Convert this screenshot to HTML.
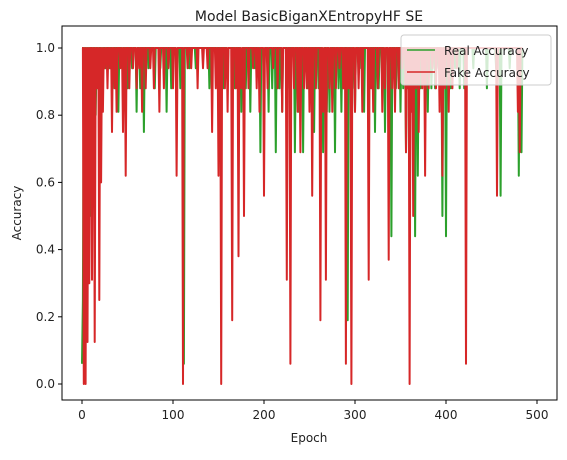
<!DOCTYPE html>
<html><head><meta charset="utf-8"><style>
body{margin:0;background:#fff;font-family:"Liberation Sans","DejaVu Sans",sans-serif}
svg text{font-family:"DejaVu Sans","Liberation Sans",sans-serif;fill:#222}
</style></head><body>
<svg id="chart" width="567" height="455" viewBox="0 0 567 455" xmlns="http://www.w3.org/2000/svg">
<rect width="567" height="455" fill="#fff"/>
<text x="309" y="21" font-size="14" text-anchor="middle">Model BasicBiganXEntropyHF SE</text>
<g id="plot"></g>
<rect x="62" y="26" width="495" height="374" fill="none" stroke="#000" stroke-width="1"/>
<g id="ticks"></g>
<text x="309" y="442" font-size="12" text-anchor="middle">Epoch</text>
<text transform="translate(21,213) rotate(-90)" font-size="12" text-anchor="middle">Accuracy</text>
<g>
<rect x="401" y="35" width="150" height="50" rx="3" fill="#fff" fill-opacity="0.8" stroke="#ccc"/>
<line x1="407" y1="50" x2="435" y2="50" stroke="#2ca02c" stroke-width="1.5"/>
<text x="444" y="55" font-size="12">Real Accuracy</text>
<line x1="407" y1="72" x2="435" y2="72" stroke="#d62728" stroke-width="1.5"/>
<text x="444" y="77" font-size="12">Fake Accuracy</text>
</g>
</svg>
<script>
const nEpochs = 485;
const xTicks = [0,100,200,300,400,500];
const yTicks = [0.0,0.2,0.4,0.6,0.8,1.0];
const realDipEpochs = [0,1,3,5,7,9,12,15,18,22,26,30,34,40,44,47,50,55,60,64,68,73,80,86,93,98,104,108,112,118,125,140,148,155,160,168,175,180,185,190,196,200,205,209,213,217,220,226,234,238,243,248,255,260,265,269,272,278,282,285,288,292,297,300,305,310,316,322,326,333,337,340,345,350,353,356,360,366,369,372,376,380,384,388,392,396,400,405,410,415,420,430,445,455,460,470,480,483];
const realDipValues = [0.06,0.25,0.25,0.87,0.88,0.5,0.75,0.8,0.88,0.9,0.94,0.94,0.88,0.81,0.94,0.88,0.88,0.94,0.81,0.88,0.75,0.94,0.88,0.94,0.81,0.88,0.94,0.88,0.06,0.94,0.94,0.88,0.94,0.88,0.94,0.88,0.81,0.88,0.81,0.94,0.69,0.88,0.81,0.88,0.69,0.88,0.81,0.88,0.69,0.81,0.69,0.88,0.75,0.88,0.69,0.81,0.81,0.69,0.88,0.81,0.88,0.19,0.88,0.81,0.94,0.81,0.88,0.75,0.88,0.75,0.81,0.44,0.88,0.81,0.88,0.69,0.75,0.44,0.62,0.88,0.94,0.81,0.88,0.88,0.94,0.5,0.44,0.88,0.94,0.88,0.88,0.94,0.88,0.94,0.56,0.94,0.62,0.69];
const fakeDipEpochs = [2,4,6,8,11,14,17,19,21,23,25,28,31,33,36,38,42,45,48,52,56,60,63,66,70,75,79,85,90,95,100,104,111,116,120,127,133,138,143,147,150,153,157,160,165,169,172,175,178,183,188,192,195,200,204,210,215,220,225,229,233,237,240,244,247,250,253,257,262,265,268,272,275,279,283,287,290,293,296,300,304,308,315,318,320,325,330,333,337,341,344,348,352,356,358,360,362,364,367,370,374,377,381,385,389,393,396,399,403,407,412,422,456,479,481];
const fakeDipValues = [0,0,0.125,0.3,0.31,0.125,0.88,0.25,0.6,0.81,0.94,0.88,0.94,0.75,0.88,0.81,0.94,0.75,0.62,0.88,0.94,0.88,0.94,0.81,0.88,0.94,0.88,0.81,0.88,0.94,0.88,0.62,0,0.94,0.94,0.88,0.94,0.94,0.75,0.88,0.62,0,0.88,0.81,0.19,0.88,0.38,0.88,0.5,0.88,0.94,0.88,0.81,0.56,0.88,0.94,0.88,0.81,0.31,0.06,0.88,0.81,0.69,0.88,0.88,0.81,0.56,0.88,0.19,0.81,0.31,0.88,0.81,0.88,0.94,0.88,0.06,0.88,0,0.81,0.88,0.81,0.31,0.88,0.81,0.88,0.81,0.88,0.37,0.88,0.81,0.88,0.94,0.69,0.88,0,0.81,0.5,0.88,0.75,0.88,0.62,0.88,0.94,0.88,0.81,0.62,0.88,0.81,0.88,0.94,0.06,0.56,0.81,0.69];
const X = e => 82 + e * 0.91;
const Y = v => 384 - v * 336;
const NS = "http://www.w3.org/2000/svg";
function series(ep, vals){const s=new Array(nEpochs).fill(1);ep.forEach((e,i)=>{if(e<nEpochs)s[e]=vals[i];});return s;}
const plot=document.getElementById('plot');
[[series(realDipEpochs,realDipValues),'#2ca02c','real-accuracy-line'],[series(fakeDipEpochs,fakeDipValues),'#d62728','fake-accuracy-line']].forEach(([s,c,n])=>{
 const p=document.createElementNS(NS,'polyline');
 p.setAttribute('points',s.map((v,i)=>X(i).toFixed(1)+','+Y(v).toFixed(1)).join(' '));
 p.setAttribute('fill','none');p.setAttribute('stroke',c);p.setAttribute('stroke-width','2');p.setAttribute('stroke-linejoin','round');
 
 
 plot.appendChild(p);
});
const tk=document.getElementById('ticks');
xTicks.forEach(t=>{
 const l=document.createElementNS(NS,'line');l.setAttribute('x1',X(t));l.setAttribute('x2',X(t));l.setAttribute('y1',400);l.setAttribute('y2',404);l.setAttribute('stroke','#000');
 
 
 tk.appendChild(l);
 const tx=document.createElementNS(NS,'text');tx.setAttribute('x',X(t));tx.setAttribute('y',419);tx.setAttribute('font-size','12');tx.setAttribute('text-anchor','middle');tx.textContent=t;
 
 
 tk.appendChild(tx);
});
yTicks.forEach(t=>{
 const l=document.createElementNS(NS,'line');l.setAttribute('x1',58);l.setAttribute('x2',62);l.setAttribute('y1',Y(t));l.setAttribute('y2',Y(t));l.setAttribute('stroke','#000');
 
 
 tk.appendChild(l);
 const tx=document.createElementNS(NS,'text');tx.setAttribute('x',55);tx.setAttribute('y',Y(t)+4);tx.setAttribute('font-size','12');tx.setAttribute('text-anchor','end');tx.textContent=t.toFixed(1);
 
 
 tk.appendChild(tx);
});
</script>
</body></html>
